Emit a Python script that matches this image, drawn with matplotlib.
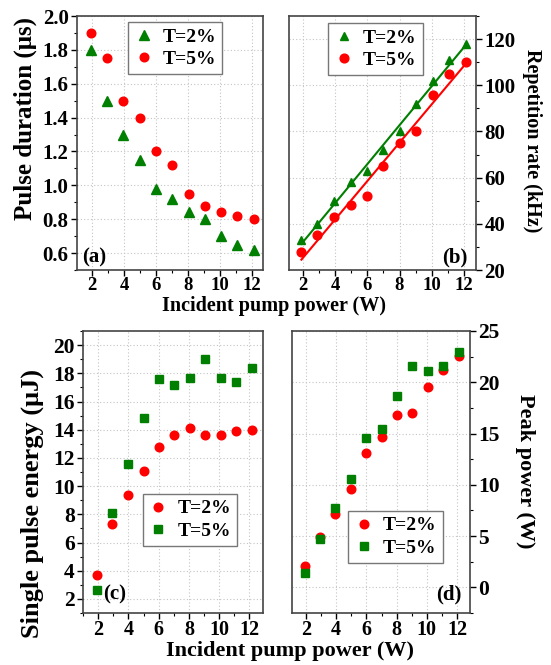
import numpy as np
import matplotlib.pyplot as plt
from matplotlib.ticker import MultipleLocator

plt.rcParams["font.family"] = ["Liberation Serif", "DejaVu Serif"]
plt.rcParams["font.weight"] = "bold"
plt.rcParams["mathtext.default"] = "regular"

# --- datos ---
potencia = [1.9, 2.9, 3.95, 5.0, 6.0, 7.0, 8.05, 9.05, 10.1, 11.1, 12.15]

duracion_t2 = [1.80, 1.50, 1.30, 1.15, 0.98, 0.92, 0.84, 0.80, 0.70, 0.65, 0.62]
duracion_t5 = [1.90, 1.75, 1.50, 1.40, 1.20, 1.12, 0.95, 0.88, 0.84, 0.82, 0.80]

repeticion_t2 = [33, 40, 50, 58, 63, 72, 80, 92, 102, 111, 118]
repeticion_t5 = [28, 35, 43, 48, 52, 65, 75, 80, 96, 105, 110]

energia_rojo = [3.7, 7.3, 9.4, 11.1, 12.8, 13.6, 14.1, 13.6, 13.6, 13.9, 14.0]
energia_verde = [2.6, 8.1, 11.6, 14.8, 17.6, 17.2, 17.7, 19.0, 17.7, 17.4, 18.4]

pico_rojo = [2.1, 4.9, 7.2, 9.6, 13.1, 14.7, 16.8, 17.0, 19.5, 21.2, 22.6]
pico_verde = [1.4, 4.7, 7.7, 10.6, 14.6, 15.4, 18.7, 21.6, 21.1, 21.6, 23.0]

ROJO = "#ff0000"
VERDE = "#007f00"
W, H = 551, 665

fig = plt.figure(figsize=(5.51, 6.65), dpi=100)


def ejes(x0, y0, x1, y1):
    """Crea unos ejes a partir de su caja en pixeles (origen arriba a la izquierda)."""
    return fig.add_axes([x0 / W, 1 - y1 / H, (x1 - x0) / W, (y1 - y0) / H])


def estilo(ax, derecha=False, fx=13.5, fy=15):
    """Marco, rejilla punteada y ticks hacia fuera."""
    for s in ax.spines.values():
        s.set_color("#444444")
        s.set_linewidth(1.2)
    ax.grid(True, ls=(0, (1, 2)), color="#c4c4c4", lw=0.8)
    ax.set_axisbelow(True)
    ax.xaxis.set_major_locator(MultipleLocator(2))
    ax.xaxis.set_minor_locator(MultipleLocator(1))
    ax.tick_params(which="both", direction="out", top=False, pad=2)
    ax.tick_params(axis="x", labelsize=fx, pad=1)
    ax.tick_params(axis="y", labelsize=fy)
    ax.tick_params(which="major", length=4, width=1)
    ax.tick_params(which="minor", length=2.5, width=0.8)
    if derecha:
        ax.yaxis.tick_right()
        ax.tick_params(which="both", left=False, right=True)
    else:
        ax.tick_params(which="both", right=False)
    for t in ax.get_xticklabels() + ax.get_yticklabels():
        t.set_fontweight("bold")


def leyenda(ax, x, y):
    leg = ax.legend(loc="upper left", bbox_to_anchor=(x, y), borderaxespad=0,
                    frameon=True, fancybox=False, framealpha=1, fontsize=14,
                    handletextpad=0.5, borderpad=0.3, labelspacing=0.25,
                    handlelength=1.0)
    leg.get_frame().set_edgecolor("#777777")
    leg.get_frame().set_linewidth(1)
    for t in leg.get_texts():
        t.set_fontweight("bold")


def etiqueta_y(px, py, texto, size, rot):
    fig.text(px / W, 1 - py / H, texto, fontsize=size, fontweight="bold",
             rotation=rot, ha="center", va="center")


def letra(ax, x, y, texto, ha="left"):
    ax.text(x, y, texto, transform=ax.transAxes, fontsize=15, fontweight="bold",
            ha=ha, va="center")


ax_a = ejes(77, 16, 263, 270)
ax_b = ejes(289, 16, 476, 270)
ax_c = ejes(83, 331, 263, 613)
ax_d = ejes(292, 331, 470, 613)

# (a) duracion del pulso
ax_a.plot(potencia, duracion_t2, "^", color=VERDE, ms=6.5, label="T=2%")
ax_a.plot(potencia, duracion_t5, "o", color=ROJO, ms=6.2, label="T=5%")
ax_a.set_xlim(1.05, 12.7)
ax_a.set_ylim(0.5, 2.0)
ax_a.yaxis.set_major_locator(MultipleLocator(0.2))
ax_a.yaxis.set_minor_locator(MultipleLocator(0.1))
estilo(ax_a)
leyenda(ax_a, 0.274, 0.976)
letra(ax_a, 0.03, 0.05, "(a)")
etiqueta_y(25, 118, "Pulse duration (μs)", 18, 90)

# (b) tasa de repeticion con ajuste lineal
x = np.array(potencia)
for ys, mk, col, lab in [(repeticion_t2, "^", VERDE, "T=2%"),
                         (repeticion_t5, "o", ROJO, "T=5%")]:
    ax_b.plot(x, ys, mk, color=col, ms=6.3, label=lab)
    p = np.polyfit(x, ys, 1)
    ax_b.plot(x, np.polyval(p, x), "-", color=col, lw=1.5)
ax_b.set_xlim(1.13, 12.75)
ax_b.set_ylim(20, 130)
ax_b.yaxis.set_major_locator(MultipleLocator(20))
ax_b.yaxis.set_minor_locator(MultipleLocator(10))
estilo(ax_b, derecha=True)
leyenda(ax_b, 0.209, 0.972)
letra(ax_b, 0.955, 0.05, "(b)", ha="right")
etiqueta_y(532, 141, "Repetition rate (kHz)", 14.5, -90)

fig.text(274 / W, 1 - 306 / H, "Incident pump power (W)", fontsize=14.5,
         fontweight="bold", ha="center", va="center")

# (c) energia por pulso
ax_c.plot(potencia, energia_rojo, "o", color=ROJO, ms=6.2, label="T=2%")
ax_c.plot(potencia, energia_verde, "s", color=VERDE, ms=5.5, label="T=5%")
ax_c.set_xlim(1.0, 12.9)
ax_c.set_ylim(1, 21)
ax_c.yaxis.set_major_locator(MultipleLocator(2))
ax_c.yaxis.set_minor_locator(MultipleLocator(1))
estilo(ax_c, fx=14.5, fy=15.5)
leyenda(ax_c, 0.333, 0.422)
letra(ax_c, 0.11, 0.064, "(c)")
etiqueta_y(32, 503, "Single pulse energy (μJ)", 19, 90)

# (d) potencia de pico
ax_d.plot(potencia, pico_rojo, "o", color=ROJO, ms=6.2, label="T=2%")
ax_d.plot(potencia, pico_verde, "s", color=VERDE, ms=5.5, label="T=5%")
ax_d.set_xlim(1.07, 12.86)
ax_d.set_ylim(-2.5, 25)
ax_d.yaxis.set_major_locator(MultipleLocator(5))
ax_d.yaxis.set_minor_locator(MultipleLocator(2.5))
estilo(ax_d, derecha=True, fx=14.5, fy=15.5)
leyenda(ax_d, 0.315, 0.362)
letra(ax_d, 0.955, 0.064, "(d)", ha="right")
etiqueta_y(525, 471, "Peak power (W)", 16, -90)

fig.text(290 / W, 1 - 651 / H, "Incident pump power (W)", fontsize=16,
         fontweight="bold", ha="center", va="center")

fig.savefig("out.png", dpi=100)
